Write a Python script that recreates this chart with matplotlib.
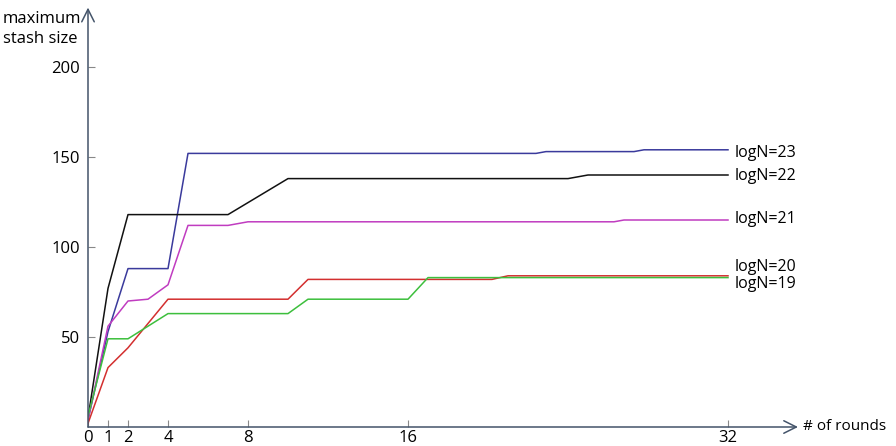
import matplotlib.pyplot as plt

plt.rcParams['font.family'] = ['Open Sans', 'DejaVu Sans']

# series: rounds (x) and max stash size (y)
x23 = [0, 1, 2, 4, 5, 22.4, 22.9, 27.3, 27.8, 32]
y23 = [4, 53, 88, 88, 152, 152, 153, 153, 154, 154]
x22 = [0, 1, 2, 7, 10, 24, 25, 32]
y22 = [5, 77, 118, 118, 138, 138, 140, 140]
x21 = [0, 1, 2, 3, 4, 5, 7, 8, 26.3, 26.8, 32]
y21 = [4, 56, 70, 71, 79, 112, 112, 114, 114, 115, 115]
x20 = [0, 1, 2, 4, 10, 11, 20.2, 21, 32]
y20 = [2, 33, 44, 71, 71, 82, 82, 84, 84]
x19 = [0, 1, 2, 4, 10, 11, 16, 17, 32]
y19 = [6, 49, 49, 63, 63, 71, 71, 83, 83]

labels = ['logN=23', 'logN=22', 'logN=21', 'logN=20', 'logN=19']
label_y = [152, 139.5, 115.5, 89, 79.5]
colors = ['#3a3a9c', '#111111', '#c03cc0', '#d32f2f', '#3dbf3d']

x_ticks = [0, 1, 2, 4, 8, 16, 32]
y_ticks = [50, 100, 150, 200]

fig = plt.figure(figsize=(8.96, 4.46), dpi=100)
ax = fig.add_axes([88 / 896, 19 / 446, 710 / 896, 419.4 / 446])
ax.set_xlim(0, 35.5)
ax.set_ylim(0, 233)

series = [(x23, y23), (x22, y22), (x21, y21), (x20, y20), (x19, y19)]
for (xs, ys), c, lab, ly in zip(series, colors, labels, label_y):
    ax.plot(xs, ys, color=c, lw=1.1)
    ax.text(32.35, ly, lab, fontsize=11.5, va='center', ha='left')

for s in ax.spines.values():
    s.set_visible(False)

axis_col = '#44546a'
# axes drawn as arrows with open heads
ax.annotate('', xy=(35.5, 0), xytext=(0, 0), annotation_clip=False,
            arrowprops=dict(arrowstyle='->,head_length=0.9,head_width=0.45',
                            color=axis_col, lw=1.1, shrinkA=0, shrinkB=0))
ax.annotate('', xy=(0, 233), xytext=(0, 0), annotation_clip=False,
            arrowprops=dict(arrowstyle='->,head_length=0.9,head_width=0.45',
                            color=axis_col, lw=1.1, shrinkA=0, shrinkB=0))

ax.set_xticks(x_ticks)
ax.set_yticks(y_ticks)
ax.tick_params(direction='in', length=5, color='#888888', labelsize=12, pad=2)
ax.tick_params(axis='y', pad=6)

ax.text(35.75, 0, '# of rounds', fontsize=11, va='center', ha='left')
fig.text(3 / 896, 1 - 29 / 446, 'maximum\nstash size', fontsize=12, va='center', ha='left',
         linespacing=1.35)

fig.savefig('out.png', dpi=100)
